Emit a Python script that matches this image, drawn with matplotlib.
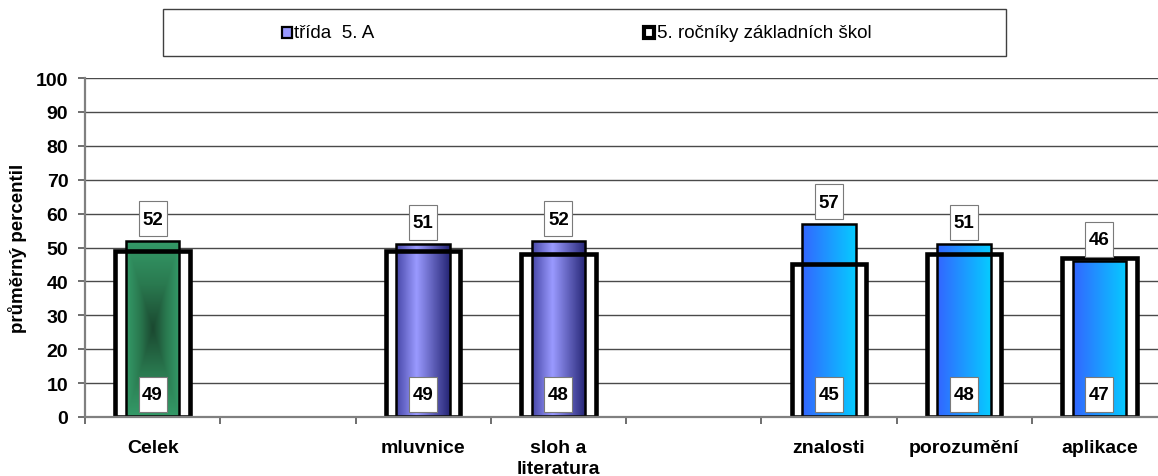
import matplotlib
matplotlib.use("Agg")
import matplotlib.pyplot as plt
import matplotlib.transforms as mtransforms
from matplotlib.colors import LinearSegmentedColormap
from matplotlib.patches import Rectangle
import numpy as np

plt.rcParams['font.family'] = ['Liberation Sans', 'DejaVu Sans']

# data (empty slots are gaps between the groups)
categories = ['Celek', '', 'mluvnice', 'sloh a\nliteratura', '', 'znalosti', 'porozumění', 'aplikace']
trida = [52, np.nan, 51, 52, np.nan, 57, 51, 46]
rocniky = [49, np.nan, 49, 48, np.nan, 45, 48, 47]
fills = ['green', None, 'purple', 'purple', None, 'blue', 'blue', 'blue']

legend_labels = ['třída  5. A', '5. ročníky základních škol']

# gradients
cmaps = {
    'green': LinearSegmentedColormap.from_list('g', ['#1b4a31', '#2a7a50', '#349a68']),
    'purple': LinearSegmentedColormap.from_list('p', [(0, '#4848a8'), (0.38, '#9a9aff'), (1, '#262676')]),
    'blue': LinearSegmentedColormap.from_list('b', ['#3366ff', '#06cbff']),
}


def gradient(kind):
    if kind == 'green':
        u = np.linspace(-1, 1, 60)
        v = np.linspace(-1, 1, 200)
        U, V = np.meshgrid(u, v)
        return np.maximum(np.abs(U), np.abs(V))
    return np.tile(np.linspace(0, 1, 100), (2, 1))


fig = plt.figure(figsize=(11.58, 4.77), dpi=100)
ax = fig.add_axes([85 / 1158, 1 - 418 / 477, 1082 / 1158, 339 / 477])

x = np.arange(len(categories))
outer_w = 0.552
inner_w = 0.396

ax.set_axisbelow(True)
ax.yaxis.grid(True, color='#4a4a4a', linewidth=1.0)

# national bars: white fill below, edges on top
ax.bar(x, rocniky, width=outer_w, color='white', edgecolor='none', zorder=2)
ax.bar(x, rocniky, width=outer_w, color='none', edgecolor='black', linewidth=3.3, zorder=5)

# class bars with gradient fill
inner = ax.bar(x, trida, width=inner_w, color='none', edgecolor='black', linewidth=1.8, zorder=4)
for bar, kind, val in zip(inner, fills, trida):
    if kind is None or np.isnan(val):
        continue
    x0 = bar.get_x()
    img = ax.imshow(gradient(kind), cmap=cmaps[kind], aspect='auto', interpolation='bilinear',
                    extent=[x0, x0 + bar.get_width(), 0, val], origin='lower', zorder=3)
    img.set_clip_path(bar)

# value boxes
def value_box(xc, yv, dy, text):
    trans = fig.dpi_scale_trans + mtransforms.ScaledTranslation(xc, yv, ax.transData)
    ax.add_patch(Rectangle((-0.14, dy), 0.28, 0.35, transform=trans, facecolor='white',
                           edgecolor='#7a7a7a', linewidth=0.8, zorder=6, clip_on=False))
    ax.text(0, dy + 0.17, text, transform=trans, ha='center', va='center',
            fontsize=13.5, fontweight='bold', zorder=7)

for xi, t, r in zip(x, trida, rocniky):
    if np.isnan(t):
        continue
    value_box(xi, t, 0.045, str(int(t)))
    value_box(xi, 0, 0.05, str(int(r)))

ax.set_xlim(-0.5, len(categories) - 0.5)
ax.set_ylim(0, 100)
ax.set_yticks(range(0, 101, 10))
ax.set_xticks(np.arange(len(categories) + 1) - 0.5, minor=False)
ax.set_xticklabels([])
ax.set_xticks(x, minor=True)
ax.set_xticklabels(categories, minor=True, fontsize=14, fontweight='bold', linespacing=1.3)
ax.tick_params(axis='x', which='minor', length=0, pad=16)
ax.tick_params(axis='x', which='major', length=5, color='#555555', width=1.2)
ax.tick_params(axis='y', length=5, width=1.2, color='#555555', pad=7, labelsize=14)
for lab in ax.get_yticklabels():
    lab.set_fontweight('bold')

for s in ['top', 'right']:
    ax.spines[s].set_visible(False)
for s in ['left', 'bottom']:
    ax.spines[s].set_color('#808080')
    ax.spines[s].set_linewidth(1.6)
ax.spines['bottom'].set_zorder(8)

ax.set_ylabel('průměrný percentil', fontsize=13.5, fontweight='bold')
ax.yaxis.set_label_coords(-0.054, 0.5)

# legend box
fig.patches.append(Rectangle((163 / 1158, 1 - 57 / 477), 843 / 1158, 47 / 477,
                             transform=fig.transFigure, facecolor='white',
                             edgecolor='#404040', linewidth=1.0))
fig.patches.append(Rectangle((282 / 1158, 1 - 39 / 477), 10 / 1158, 11 / 477,
                             transform=fig.transFigure, facecolor='#9999ff',
                             edgecolor='black', linewidth=1.6))
fig.patches.append(Rectangle((644 / 1158, 1 - 39 / 477), 10 / 1158, 11 / 477,
                             transform=fig.transFigure, facecolor='white',
                             edgecolor='black', linewidth=3.0))
fig.text(294 / 1158, 1 - 33.5 / 477, legend_labels[0], fontsize=13.5, va='center', ha='left')
fig.text(657 / 1158, 1 - 33.5 / 477, legend_labels[1], fontsize=13.5, va='center', ha='left')

fig.savefig('out.png', dpi=100)
